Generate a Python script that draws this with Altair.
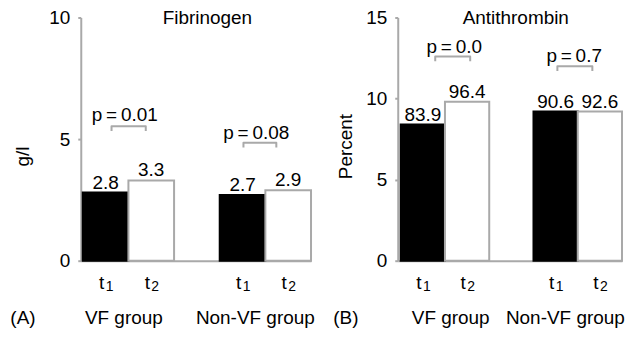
import altair as alt
import pandas as pd

FONT = "Liberation Sans"
FS = 19
GRAY = "#a9a9a9"
H = 244

# ---- data -------------------------------------------------------------
time_keys = ["t1", "t2", "t1", "t2"]
time_base = ["t", "t", "t", "t"]
time_sub = ["1", "2", "1", "2"]
slots = [0, 1, 3, 4]                 # category slot of each bar (slot 2 = gap)
groups = ["VF group", "Non-VF group"]

# Panel A: Fibrinogen (g/l)
fib_values = [2.8, 3.3, 2.7, 2.9]
fib_labels = ["2.8", "3.3", "2.7", "2.9"]
fib_p = ["p\u2009=\u20090.01", "p\u2009=\u20090.08"]

# Panel B: Antithrombin (Percent)
at_labels = ["83.9", "96.4", "90.6", "92.6"]
at_heights = [8.4, 9.8, 9.2, 9.2]
at_p = ["p\u2009=\u20090.0", "p\u2009=\u20090.7"]

# ---- layout of annotations (in axis units) ----------------------------
cfg_A = dict(xmin=-0.044, width=231, ymax=10, yticks=[0, 5, 10], ytitle="g/l",
             title="Fibrinogen", title_x=2.73, tag="(A)", tag_x=-1.31,
             group_x=[0.9, 3.78], p_x=[0.92, 3.8], p_y=[6.0, 5.25],
             br=[(0.63, 1.38, 5.53, 5.33), (3.52, 4.24, 4.85, 4.65)],
             titleX=-58, titleY=139)
cfg_B = dict(xmin=-0.067, width=225, ymax=15, yticks=[0, 5, 10, 15], ytitle="Percent",
             title="Antithrombin", title_x=2.6, tag="(B)", tag_x=-1.24,
             group_x=[1.13, 3.72], p_x=[1.21, 3.92], p_y=[13.15, 12.65],
             br=[(0.78, 1.57, 12.6, 12.3), (3.54, 4.33, 12.0, 11.7)],
             titleX=-52, titleY=129)


def panel(heights, labels, p_texts, cfg):
    bars = pd.DataFrame({"x": slots, "x2": [s + 1 for s in slots], "y": heights,
                         "time": time_keys})
    centers = pd.DataFrame({"x": [s + 0.5 for s in slots], "y": heights,
                            "label": labels, "tb": time_base, "ts": time_sub})
    title_df = pd.DataFrame({"x": [cfg["title_x"]], "y": [cfg["ymax"]], "text": [cfg["title"]]})
    p_df = pd.DataFrame({"x": cfg["p_x"], "y": cfg["p_y"], "text": p_texts})
    rows = []
    for i, (l, r, top, bot) in enumerate(cfg["br"]):
        for k, (bx, by) in enumerate([(l, bot), (l, top), (r, top), (r, bot)]):
            rows.append({"x": bx, "y": by, "b": i, "k": k})
    br_df = pd.DataFrame(rows)
    grp_df = pd.DataFrame({"x": [cfg["tag_x"]] + cfg["group_x"],
                           "text": [cfg["tag"]] + groups})

    X = alt.X("x:Q", scale=alt.Scale(domain=[cfg["xmin"], 5], nice=False, zero=False),
              axis=alt.Axis(labels=False, ticks=False, grid=False, title=None,
                            domainColor=GRAY, domainWidth=2))
    Y = alt.Y("y:Q", scale=alt.Scale(domain=[0, cfg["ymax"]], nice=False),
              axis=alt.Axis(values=cfg["yticks"], title=cfg["ytitle"], grid=False,
                            titleFont=FONT, titleFontSize=FS, titleFontWeight="normal",
                            titleColor="black", titleAngle=270, titleX=cfg["titleX"],
                            titleY=cfg["titleY"], titleBaseline="middle", titleAlign="center",
                            labelFont=FONT, labelFontSize=FS, labelColor="black",
                            labelPadding=8, tickSize=3, tickColor=GRAY, tickWidth=2,
                            domainColor=GRAY, domainWidth=2))

    bar = alt.Chart(bars).mark_bar(strokeWidth=2).encode(
        x=X, x2="x2:Q", y=Y, y2=alt.datum(0),
        fill=alt.Fill("time:N", scale=alt.Scale(domain=["t1", "t2"], range=["#000000", "#ffffff"]), legend=None),
        stroke=alt.Stroke("time:N", scale=alt.Scale(domain=["t1", "t2"], range=["#000000", GRAY]), legend=None),
    )
    vals = alt.Chart(centers).mark_text(fontSize=FS, baseline="alphabetic", dy=-4, color="black").encode(
        x=X, y=Y, text="label:N")
    tbase = alt.Chart(centers).mark_text(fontSize=FS, baseline="alphabetic", dx=-4, color="black").encode(
        x=X, y=alt.value(H + 28), text="tb:N")
    tsub = alt.Chart(centers).mark_text(fontSize=14, baseline="alphabetic", dx=4, dy=2, color="black").encode(
        x=X, y=alt.value(H + 28), text="ts:N")
    ttl = alt.Chart(title_df).mark_text(fontSize=FS, baseline="alphabetic", dy=7, color="black").encode(
        x=X, y=Y, text="text:N")
    ptx = alt.Chart(p_df).mark_text(fontSize=FS, baseline="middle", color="black").encode(
        x=X, y=Y, text="text:N")
    brk = alt.Chart(br_df).mark_line(color=GRAY, strokeWidth=2, strokeJoin="round").encode(
        x=X, y=Y, detail="b:N", order="k:Q")
    grp = alt.Chart(grp_df).mark_text(fontSize=FS, baseline="alphabetic", color="black").encode(
        x=X, y=alt.value(H + 64), text="text:N")

    return alt.layer(bar, vals, tbase, tsub, ttl, ptx, brk, grp).properties(width=cfg["width"], height=H)


chart = alt.hconcat(
    panel(fib_values, fib_labels, fib_p, cfg_A),
    panel(at_heights, at_labels, at_p, cfg_B),
    spacing=87,
    bounds="flush",
).properties(
    padding={"left": 2, "top": 0, "right": 0, "bottom": 0}
).configure(font=FONT).configure_view(stroke=None)

chart.save("out.html", embed_options={"renderer": "svg", "actions": False})
